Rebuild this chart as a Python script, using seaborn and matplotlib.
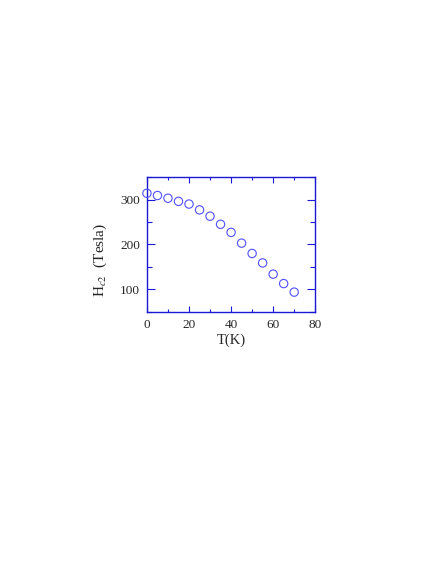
import matplotlib
matplotlib.use("Agg")
import matplotlib.pyplot as plt
from matplotlib.ticker import MultipleLocator
import pandas as pd
import seaborn as sns

# temperature (K) and upper critical field (Tesla)
temperature = [0, 5, 10, 15, 20, 25, 30, 35, 40, 45, 50, 55, 60, 65, 70]
hc2 = [314, 309, 303, 296, 290, 277, 263, 245, 227, 203, 180, 159, 134, 113, 94]

df = pd.DataFrame({"T": temperature, "Hc2": hc2})

sns.set_style("ticks")
plt.rcParams["font.family"] = ["Liberation Serif", "DejaVu Serif"]
plt.rcParams["mathtext.fontset"] = "stix"

fig = plt.figure(figsize=(4.36, 5.64), dpi=100)
ax = fig.add_axes([0.337, 0.447, 0.386, 0.239])

sns.scatterplot(data=df, x="T", y="Hc2", ax=ax, marker="o", s=36,
                facecolor="none", edgecolor="#5050ff", linewidth=0.8,
                clip_on=False, zorder=3)

ax.set_xlim(0, 80)
ax.set_ylim(50, 350)
ax.xaxis.set_major_locator(MultipleLocator(20))
ax.xaxis.set_minor_locator(MultipleLocator(10))
ax.yaxis.set_major_locator(MultipleLocator(100))
ax.yaxis.set_minor_locator(MultipleLocator(50))

blue = "#1a1ad6"
for s in ax.spines.values():
    s.set_color(blue)
    s.set_linewidth(1.0)
ax.tick_params(which="both", direction="in", top=True, right=True,
               color=blue, labelsize=9.5, width=0.8)
ax.tick_params(axis="x", which="major", length=4, pad=5)
ax.tick_params(axis="x", which="minor", length=2.5)
ax.tick_params(axis="y", which="major", length=5.5, pad=5)
ax.tick_params(axis="y", which="minor", length=3.5)

ax.set_xlabel("T(K)", fontsize=10.5, labelpad=2)
ax.set_ylabel("H$_{c2}$  (Tesla)", fontsize=11)
ax.yaxis.set_label_coords(-0.225, 0.385)

fig.savefig("out.png", dpi=100)
